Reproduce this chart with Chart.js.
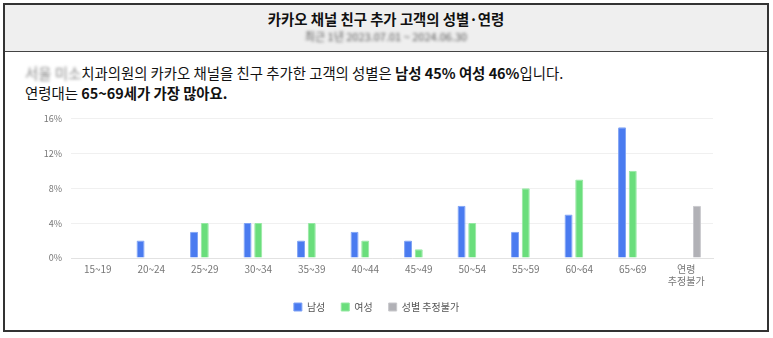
<!DOCTYPE html>
<html>
<head>
<meta charset="utf-8">
<script src="https://cdn.jsdelivr.net/npm/chart.js@4"></script>
<style>
  html, body { margin: 0; padding: 0; background: #fff; }
  body { width: 773px; height: 338px; position: relative; overflow: hidden;
         font-family: "Noto Sans CJK KR", "Noto Sans", sans-serif; color: #111; }
  .box { position: absolute; left: 3px; top: 3px; width: 766px; height: 329px;
         box-sizing: border-box; border: 2px solid #333; }
  .head { height: 46px; background: #efefef; border-bottom: 1px solid #444; text-align: center; }
  .title { font-size: 14.4px; font-weight: bold; padding-top: 4px; line-height: 20px; }
  .sub { font-size: 11px; color: #555; line-height: 14px; filter: blur(1.4px); }
  .blur { filter: blur(1.6px); color: #888; }
  .txt { position: absolute; left: 20px; font-size: 14.4px; line-height: 20px; }
  .wrap { position: absolute; left: 40px; top: 104px; width: 680px; height: 220px; }
</style>
</head>
<body>
<div class="box">
  <div class="head">
    <div class="title">카카오 채널 친구 추가 고객의 성별·연령</div>
    <div class="sub">최근 1년 2023.07.01 ~ 2024.06.30</div>
  </div>
  <div class="txt" style="top:58px"><span class="blur">서울 미소</span>치과의원의 카카오 채널을 친구 추가한 고객의 성별은 <b>남성 45% 여성 46%</b>입니다.</div>
  <div class="txt" style="top:78px">연령대는 <b>65~69세가 가장 많아요.</b></div>
</div>
<div class="wrap"><canvas id="graph"></canvas></div>
<script>
const labelsAges = ['15~19', '20~24', '25~29', '30~34', '35~39', '40~44', '45~49',
  '50~54', '55~59', '60~64', '65~69', ['연령', '추정불가']];
const male = [0, 2, 3, 4, 2, 3, 2, 6, 3, 5, 15, 0];
const female = [0, 0, 4, 4, 4, 2, 1, 4, 8, 9, 10, 0];
const unknown = [0, 0, 0, 0, 0, 0, 0, 0, 0, 0, 0, 6];
const yTicks = [0, 4, 8, 12, 16];

function dataset(label, data, color, border){
    return {
        label: label,
        data: data,
        backgroundColor: color,
        borderColor: border,
        borderWidth: 1,
        borderRadius: 1,
        categoryPercentage: 0.6,
        barPercentage: 0.75
    };
}

const ctx = document.getElementById('graph');
new Chart(ctx, {
    type: 'bar',
    data: {
        labels: labelsAges,
        datasets: [
            dataset('남성', male, '#4a7bf0', '#7ea2f5'),
            dataset('여성', female, '#6ade7c', '#95e8a2'),
            dataset('성별 추정불가', unknown, '#b1b1b6', '#c8c8cc')
        ]
    },
    options: {
        responsive: true,
        maintainAspectRatio: false,
        animation: false,
        layout: { padding: { top: 14, right: 7, left: 0, bottom: 2 } },
        plugins: {
            legend: {
                position: 'bottom',
                labels: {
                    boxWidth: 8,
                    boxHeight: 8,
                    padding: 16,
                    color: '#555',
                    font: { size: 10, family: '"Noto Sans CJK KR", sans-serif' }
                }
            },
            tooltip: { enabled: false }
        },
        scales: {
            x: {
                afterFit: s => { s.height -= 6; },
                grid: { display: false, drawTicks: false },
                border: { color: '#e2e2e2' },
                ticks: {
                    color: '#777',
                    padding: 5,
                    maxRotation: 0,
                    font: { size: 10, family: '"Noto Sans CJK KR", sans-serif' }
                }
            },
            y: {
                min: 0,
                max: 16,
                afterFit: s => { s.width = 31; },
                afterBuildTicks: s => { s.ticks = yTicks.map(v => ({ value: v })); },
                grid: { color: '#f0f0f0', drawTicks: false },
                border: { display: false },
                ticks: {
                    color: '#777',
                    padding: 9,
                    font: { size: 9, family: '"Noto Sans CJK KR", sans-serif' },
                    callback: v => v + '%'
                }
            }
        }
    }
});
</script>
</body>
</html>
